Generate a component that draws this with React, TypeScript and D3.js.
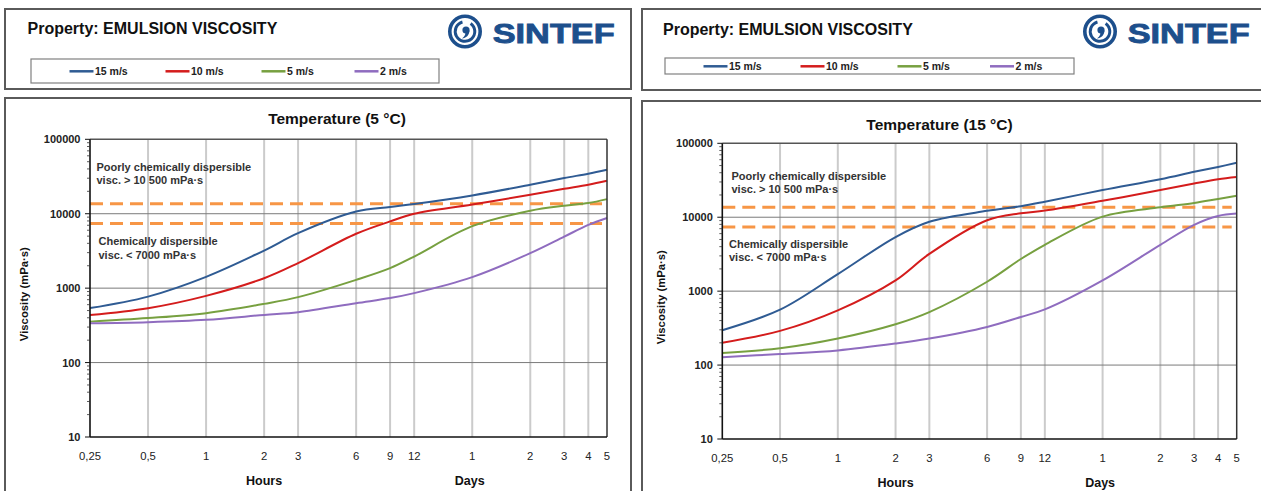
import React from "react";
import * as d3 from "d3";

// ---------- data ----------
const hours = [0.25, 0.5, 1, 2, 3, 6, 9, 12, 24, 48, 72, 96, 120];
const xTickLabels = ["0,25", "0,5", "1", "2", "3", "6", "9", "12", "1", "2", "3", "4", "5"];
const seriesNames = ["15 m/s", "10 m/s", "5 m/s", "2 m/s"];
const seriesColors = ["#2F5B93", "#D41C1C", "#77A040", "#8F6CBF"];
const yTicks = [10, 100, 1000, 10000, 100000];
const yTickLabels = ["10", "100", "1000", "10000", "100000"];
const thresholdValues = [13600, 7400];

// Temperature 5 °C
const t5_wind15 = [540, 770, 1420, 3200, 5480, 10700, 12300, 13500, 17600, 24500, 30200, 34500, 39000];
const t5_wind10 = [436, 538, 788, 1360, 2170, 5380, 7880, 10000, 13300, 18000, 21600, 24500, 27700];
const t5_wind5 = [355, 396, 461, 615, 757, 1293, 1857, 2660, 6800, 10970, 12800, 13900, 15700];
const t5_wind2 = [338, 349, 375, 437, 475, 628, 735, 857, 1406, 2950, 4920, 7080, 8760];

// Temperature 15 °C
const t15_wind15 = [296, 562, 1700, 5400, 8700, 12200, 14100, 16200, 23300, 32700, 41100, 47900, 54500];
const t15_wind10 = [200, 290, 550, 1400, 3190, 9100, 11300, 12300, 16700, 23300, 28600, 32700, 35000];
const t15_wind5 = [146, 169, 229, 357, 521, 1340, 2720, 4240, 10200, 13600, 15600, 17700, 19500];
const t15_wind2 = [128, 141, 158, 196, 229, 328, 447, 567, 1400, 4240, 7900, 10400, 11200];

const FONT = "'Liberation Sans', Arial, Helvetica, sans-serif";

type PanelLayout = {
  title: string;
  series: number[][];
  header: { x: number; y: number; w: number; h: number };
  headerTitle: { x: number; y: number };
  legendBox: { x: number; y: number; w: number; h: number };
  legendX: number[];
  logo: { x: number; y: number };
  chartBox: { x: number; y: number; w: number; h: number };
  plot: { l: number; r: number; t: number; b: number };
  titlePos: { x: number; y: number };
  yLabelX: number;
  ann: { x1: number; x2: number; y: number[]; line2: string };
};

const panels: PanelLayout[] = [
  {
    title: "Temperature (5 °C)",
    series: [t5_wind15, t5_wind10, t5_wind5, t5_wind2],
    header: { x: 5, y: 9, w: 626, h: 80 },
    headerTitle: { x: 27.5, y: 28.5 },
    legendBox: { x: 31, y: 59, w: 408, h: 24 },
    legendX: [69.5, 165.5, 261.5, 354.5],
    logo: { x: 448, y: 15 },
    chartBox: { x: 5, y: 98, w: 626, h: 420 },
    plot: { l: 90, r: 607, t: 139.3, b: 437 },
    titlePos: { x: 337, y: 118.5 },
    yLabelX: 24,
    ann: { x1: 96.5, x2: 98.5, y: [166.7, 180.2, 240.8, 254.5], line2: "visc.  > 10 500 mPa·s" },
  },
  {
    title: "Temperature (15 °C)",
    series: [t15_wind15, t15_wind10, t15_wind5, t15_wind2],
    header: { x: 642, y: 9, w: 640, h: 81 },
    headerTitle: { x: 663, y: 29.3 },
    legendBox: { x: 665, y: 58, w: 409, h: 16 },
    legendX: [703.5, 800.5, 897.5, 990],
    logo: { x: 1083, y: 15 },
    chartBox: { x: 642, y: 101, w: 640, h: 420 },
    plot: { l: 722.3, r: 1236.7, t: 143.3, b: 439 },
    titlePos: { x: 939.5, y: 124.5 },
    yLabelX: 660.7,
    ann: { x1: 731.5, x2: 729, y: [176, 189.2, 244, 256.8], line2: "visc. > 10 500 mPa·s" },
  },
];

function Logo({ x, y }: { x: number; y: number }) {
  const cx = x + 17;
  const cy = y + 16.5;
  const blue = "#1D4F8C";
  const arc = d3.arc()({
    innerRadius: 8.3,
    outerRadius: 11.3,
    startAngle: (35 * Math.PI) / 180,
    endAngle: (345 * Math.PI) / 180,
  } as any) as string;
  return (
    <g>
      <circle cx={cx} cy={cy} r={15.2} fill="none" stroke={blue} strokeWidth={3.6} />
      <path d={arc} transform={`translate(${cx},${cy})`} fill={blue} />
      <circle cx={cx + 1} cy={cy - 1.5} r={3.6} fill={blue} />
      <path
        d={`M${cx + 4.4},${cy - 1} C${cx + 4.4},${cy + 4} ${cx + 1},${cy + 6.5} ${cx - 3},${cy + 7} C${cx},${cy + 4.5} ${cx + 1},${cy + 2} ${cx},${cy + 1}Z`}
        fill={blue}
      />
      <text
        x={x + 44.7}
        y={y + 28.3}
        fontFamily={FONT}
        fontWeight="bold"
        fontSize={28}
        fill={blue}
        stroke={blue}
        strokeWidth={0.9}
        textLength={122}
        lengthAdjust="spacingAndGlyphs"
      >
        SINTEF
      </text>
    </g>
  );
}

function Panel({ p }: { p: PanelLayout }) {
  const { l, r, t, b } = p.plot;
  const x = d3.scaleLog().domain([0.25, 120]).range([l, r]);
  const y = d3.scaleLog().domain([10, 100000]).range([b, t]);
  const line = d3
    .line<number>()
    .x((_, i) => x(hours[i]))
    .y((d) => y(d))
    .curve(d3.curveCatmullRom.alpha(0.5));

  const minor: number[] = [];
  for (let d = 10; d < 100000; d *= 10) for (let k = 2; k <= 9; k++) minor.push(k * d);

  const legendY = p.legendBox.y + p.legendBox.h / 2 + 0.3;

  return (
    <g fontFamily={FONT}>
      {/* header */}
      <rect x={p.header.x} y={p.header.y} width={p.header.w} height={p.header.h} fill="#fff" stroke="#5a5a5a" strokeWidth={2} />
      <text x={p.headerTitle.x} y={p.headerTitle.y} dominantBaseline="central" fontSize={16} fontWeight="bold" fill="#111">
        Property: EMULSION VISCOSITY
      </text>
      <rect x={p.legendBox.x} y={p.legendBox.y} width={p.legendBox.w} height={p.legendBox.h} fill="#fff" stroke="#808080" strokeWidth={1.2} />
      {seriesNames.map((n, i) => (
        <g key={n}>
          <line x1={p.legendX[i]} x2={p.legendX[i] + 24} y1={legendY} y2={legendY} stroke={seriesColors[i]} strokeWidth={2.5} />
          <text x={p.legendX[i] + 25.5} y={legendY} dominantBaseline="central" fontSize={10.5} fontWeight="bold" fill="#222">
            {n}
          </text>
        </g>
      ))}
      <Logo x={p.logo.x} y={p.logo.y} />

      {/* chart box */}
      <rect x={p.chartBox.x} y={p.chartBox.y} width={p.chartBox.w} height={p.chartBox.h} fill="#fff" stroke="#5a5a5a" strokeWidth={2} />
      <text x={p.titlePos.x} y={p.titlePos.y} textAnchor="middle" dominantBaseline="central" fontSize={15.5} fontWeight="bold" fill="#111">
        {p.title}
      </text>

      {/* vertical gridlines */}
      {hours.slice(1, -1).map((h) => (
        <line key={h} x1={x(h)} x2={x(h)} y1={t} y2={b} stroke="#CBCBCB" strokeWidth={2} />
      ))}
      {/* horizontal gridlines */}
      {yTicks.slice(1, -1).map((v) => (
        <line key={v} x1={l} x2={r} y1={y(v)} y2={y(v)} stroke="#7a7a7a" strokeWidth={1} />
      ))}

      {/* thresholds */}
      {thresholdValues.map((v) => (
        <line key={v} x1={l} x2={r - 5} y1={y(v)} y2={y(v)} stroke="#F79646" strokeWidth={3} strokeDasharray="13 7" />
      ))}

      {/* series */}
      {p.series.map((s, i) => (
        <path key={i} d={line(s) as string} fill="none" stroke={seriesColors[i]} strokeWidth={2} />
      ))}

      {/* annotations */}
      <g fontSize={11} fontWeight="bold" fill="#333" style={{ whiteSpace: "pre" }}>
        <text x={p.ann.x1} y={p.ann.y[0]} dominantBaseline="central">Poorly chemically dispersible</text>
        <text x={p.ann.x1} y={p.ann.y[1]} dominantBaseline="central">{p.ann.line2}</text>
        <text x={p.ann.x2} y={p.ann.y[2]} dominantBaseline="central">Chemically dispersible</text>
        <text x={p.ann.x2} y={p.ann.y[3]} dominantBaseline="central">visc. &lt; 7000 mPa·s</text>
      </g>

      {/* plot frame */}
      <line x1={l} x2={r} y1={t} y2={t} stroke="#555" strokeWidth={1.5} />
      <line x1={r} x2={r} y1={t} y2={b} stroke="#333" strokeWidth={1.5} />
      <line x1={l} x2={r} y1={b} y2={b} stroke="#111" strokeWidth={1.6} />
      <line x1={l} x2={l} y1={t} y2={b} stroke="#111" strokeWidth={1.6} />
      {minor.map((v) => (
        <line key={v} x1={l - 3} x2={l} y1={y(v)} y2={y(v)} stroke="#333" strokeWidth={0.8} />
      ))}
      {yTicks.map((v) => (
        <line key={v} x1={l - 5} x2={l} y1={y(v)} y2={y(v)} stroke="#111" strokeWidth={1} />
      ))}

      {/* y tick labels */}
      {yTicks.map((v, i) => (
        <text key={v} x={l - 9.5} y={y(v)} textAnchor="end" dominantBaseline="central" fontSize={11} fontWeight="bold" fill="#222">
          {yTickLabels[i]}
        </text>
      ))}
      {/* x tick labels */}
      {hours.map((h, i) => (
        <text key={h} x={x(h)} y={b + 18.5} textAnchor="middle" dominantBaseline="central" fontSize={11.3} fill="#222">
          {xTickLabels[i]}
        </text>
      ))}
      <text x={x(2)} y={b + 44} textAnchor="middle" dominantBaseline="central" fontSize={12.5} fontWeight="bold" fill="#111">
        Hours
      </text>
      <text x={x(24) - 2.5} y={b + 44} textAnchor="middle" dominantBaseline="central" fontSize={12.5} fontWeight="bold" fill="#111">
        Days
      </text>
      <text
        transform={`translate(${p.yLabelX},${(t + b) / 2 + 6}) rotate(-90)`}
        textAnchor="middle"
        dominantBaseline="central"
        fontSize={11.3}
        fontWeight="bold"
        fill="#111"
      >
        Viscosity (mPa·s)
      </text>
    </g>
  );
}

export default function App() {
  return (
    <svg
      width={1261}
      height={491}
      viewBox="0 0 1261 491"
      style={{ position: "absolute", left: 0, top: 0, background: "#fff", display: "block" }}
    >
      <rect x={0} y={0} width={1261} height={491} fill="#fff" />
      {panels.map((p, i) => (
        <Panel key={i} p={p} />
      ))}
    </svg>
  );
}
